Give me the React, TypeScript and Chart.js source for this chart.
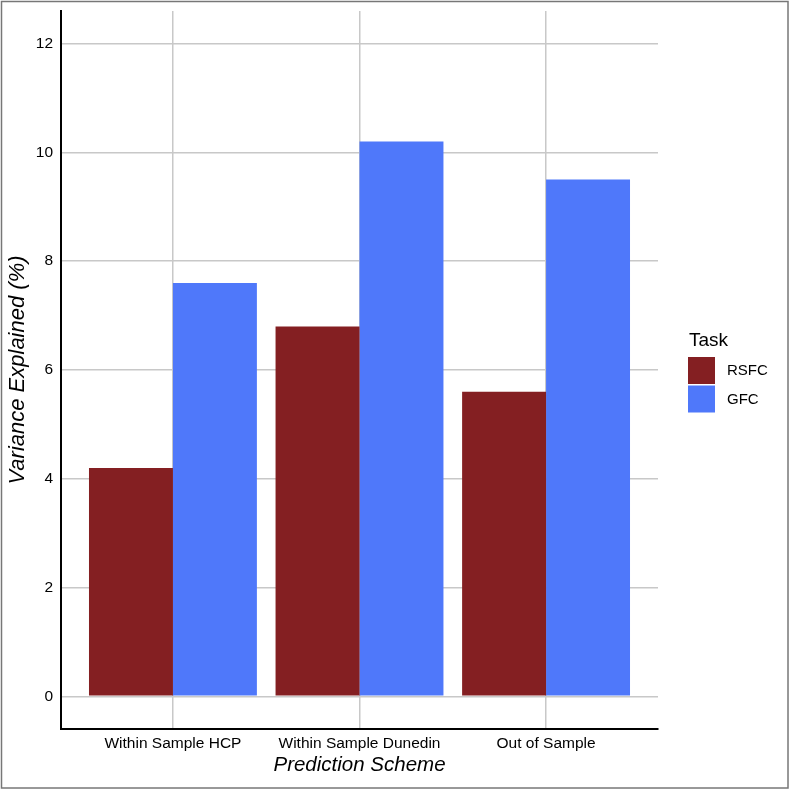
import React, { useEffect, useRef } from "react";
import { Chart, registerables } from "chart.js";

Chart.register(...registerables);

const categories = ["Within Sample HCP", "Within Sample Dunedin", "Out of Sample"];
const rsfcValues = [4.2, 6.8, 5.6];
const gfcValues = [7.6, 10.2, 9.5];
const seriesNames = ["RSFC", "GFC"];
const seriesColors = ["#841F22", "#4F78FA"];
const yTicks = [0, 2, 4, 6, 8, 10, 12];
const legendTitle = "Task";
const xTitle = "Prediction Scheme";
const yTitle = "Variance Explained (%)";

const FONT = "'Liberation Sans', Arial, Helvetica, sans-serif";

const frameAndLegend = {
  id: "frameAndLegend",
  afterDraw(chart: any) {
    const ctx = chart.ctx;
    ctx.save();
    // outer frame
    ctx.strokeStyle = "#777777";
    ctx.lineWidth = 1.5;
    ctx.strokeRect(1.5, 1.5, chart.width - 3.5, chart.height - 3.5);
    // legend
    const x0 = chart.chartArea.right + 30;
    ctx.fillStyle = "#000000";
    ctx.font = `19px ${FONT}`;
    ctx.textBaseline = "alphabetic";
    ctx.textAlign = "left";
    ctx.fillText(legendTitle, x0 + 1, 346);
    chart.data.datasets.forEach((ds: any, i: number) => {
      const top = 357 + i * 28.5;
      ctx.fillStyle = ds.backgroundColor;
      ctx.fillRect(x0, top, 27, 27);
      ctx.fillStyle = "#000000";
      ctx.font = `15px ${FONT}`;
      ctx.textBaseline = "middle";
      ctx.fillText(ds.label, x0 + 39, top + 14);
    });
    ctx.restore();
  },
};

export default function App() {
  const ref = useRef<HTMLCanvasElement>(null);
  useEffect(() => {
    document.body.style.margin = "0";
    const toPoints = (vals: number[]) => vals.map((v, i) => ({ x: i + 1, y: v }));
    const chart = new Chart(ref.current!, {
      type: "bar",
      data: {
        datasets: [
          {
            label: seriesNames[0],
            data: toPoints(rsfcValues),
            backgroundColor: seriesColors[0],
            categoryPercentage: 0.9,
            barPercentage: 1.0,
          },
          {
            label: seriesNames[1],
            data: toPoints(gfcValues),
            backgroundColor: seriesColors[1],
            categoryPercentage: 0.9,
            barPercentage: 1.0,
          },
        ],
      },
      options: {
        animation: false,
        responsive: false,
        devicePixelRatio: 1,
        layout: { padding: { top: 11, right: 132, left: 0, bottom: 0 } },
        plugins: {
          legend: { display: false },
          tooltip: { enabled: false },
        },
        scales: {
          x: {
            type: "linear",
            min: 0.4,
            max: 3.6,
            offset: false,
            afterBuildTicks: (scale: any) => {
              scale.ticks = categories.map((_, i) => ({ value: i + 1 }));
            },
            afterFit: (scale: any) => {
              scale.height = 61;
              scale.paddingLeft = 0;
              scale.paddingRight = 0;
            },
            ticks: {
              callback: (v: any) => categories[Math.round(v) - 1] ?? "",
              color: "#000000",
              font: { family: FONT, size: 15.5 },
              padding: 5,
              maxRotation: 0,
              autoSkip: false,
            },
            grid: { color: "#C8C8C8", lineWidth: 1.5, drawTicks: false, offset: false },
            border: { display: true, color: "#000000", width: 2 },
            title: {
              display: true,
              text: xTitle,
              color: "#000000",
              font: { family: FONT, size: 20.5, style: "italic" },
              padding: { top: 0, bottom: 12 },
            },
          },
          y: {
            type: "linear",
            min: -0.6,
            max: 12.6,
            afterBuildTicks: (scale: any) => {
              scale.ticks = yTicks.map((v) => ({ value: v }));
            },
            afterFit: (scale: any) => {
              scale.width = 61;
              scale.paddingTop = 0;
              scale.paddingBottom = 0;
            },
            ticks: {
              color: "#000000",
              font: { family: FONT, size: 15.5 },
              padding: 8,
            },
            grid: { color: "#C8C8C8", lineWidth: 1.5, drawTicks: false },
            border: { display: true, color: "#000000", width: 2 },
            title: {
              display: true,
              text: yTitle,
              color: "#000000",
              font: { family: FONT, size: 22, style: "italic" },
              padding: { top: 5, bottom: 0 },
            },
          },
        },
      },
      plugins: [frameAndLegend],
    });
    return () => chart.destroy();
  }, []);
  return (
    <div style={{ width: 790, height: 790 }}>
      <canvas ref={ref} width={790} height={790} style={{ display: "block" }} />
    </div>
  );
}
